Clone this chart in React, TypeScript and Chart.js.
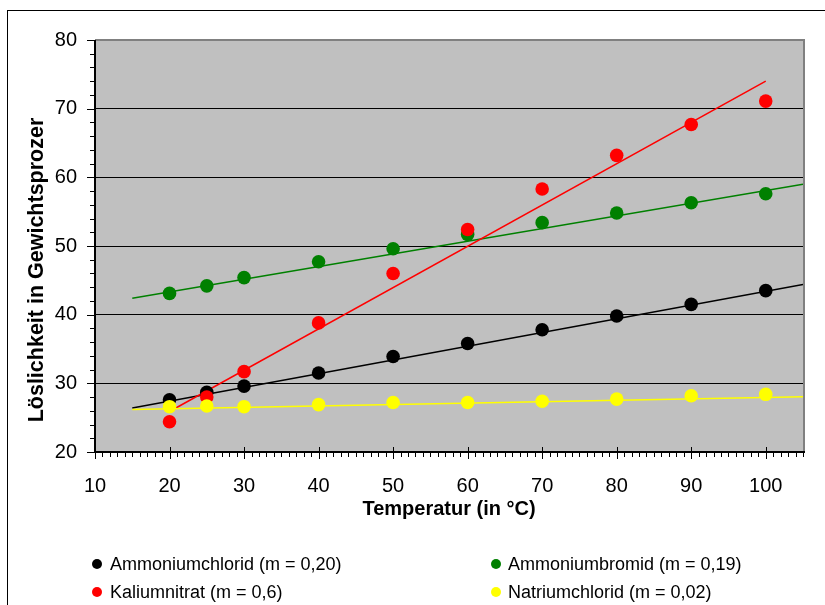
import React, { useEffect, useRef } from 'react';
import { Chart, registerables } from 'chart.js';

Chart.register(...registerables);

// ---- data ----
const temperatures = [20, 25, 30, 40, 50, 60, 70, 80, 90, 100];
const ammoniumchlorid = [27.6, 28.7, 29.6, 31.5, 33.9, 35.8, 37.8, 39.8, 41.5, 43.5];
const ammoniumbromid = [43.1, 44.2, 45.4, 47.7, 49.6, 51.7, 53.4, 54.8, 56.3, 57.6];
const kaliumnitrat = [24.4, 28.0, 31.7, 38.8, 46.0, 52.4, 58.3, 63.2, 67.7, 71.1];
const natriumchlorid = [26.6, 26.7, 26.6, 26.9, 27.2, 27.2, 27.4, 27.7, 28.2, 28.4];

// trendline end points
const trendXWide = [15, 105];
const trendXNarrow = [20, 100];
const trendAmmoniumchlorid = [26.4, 44.4];
const trendAmmoniumbromid = [42.4, 59.0];
const trendKaliumnitrat = [25.9, 74.0];
const trendNatriumchlorid = [26.2, 28.05];

const seriesLabels = [
  'Ammoniumchlorid (m = 0,20)',
  'Ammoniumbromid (m = 0,19)',
  'Kaliumnitrat (m = 0,6)',
  'Natriumchlorid (m = 0,02)',
];
const seriesColors = ['#000000', '#008000', '#ff0000', '#ffff00'];

const xTitle = 'Temperatur (in °C)';
const yTitle = 'Löslichkeit in Gewichtsprozer';
const xMin = 10;
const xMax = 105;
const yMin = 20;
const yMax = 80;

const FONT = '"Liberation Sans", Arial, sans-serif';

export default function App() {
  const ref = useRef<HTMLCanvasElement>(null);

  useEffect(() => {
    if (!ref.current) return;
    const pts = (ys: number[]) => temperatures.map((t, i) => ({ x: t, y: ys[i] }));
    const line = (xs: number[], ys: number[]) => xs.map((x, i) => ({ x, y: ys[i] }));

    const decor = {
      id: 'decor',
      beforeDraw(chart: any) {
        const { ctx, chartArea: a } = chart;
        ctx.save();
        ctx.fillStyle = '#ffffff';
        ctx.fillRect(0, 0, chart.width, chart.height);
        ctx.strokeStyle = '#000';
        ctx.lineWidth = 1;
        ctx.strokeRect(7.5, 10.5, 1000, 1000);
        ctx.fillStyle = '#c0c0c0';
        ctx.fillRect(a.left, a.top, a.right - a.left, a.bottom - a.top);
        ctx.restore();
      },
      afterDatasetsDraw(chart: any) {
        const { ctx, chartArea: a, scales } = chart;
        const xs = scales.x;
        const ys = scales.y;
        ctx.save();
        // gray frame top/right
        ctx.strokeStyle = '#808080';
        ctx.lineWidth = 2;
        ctx.beginPath();
        ctx.moveTo(Math.round(a.left), Math.round(a.top));
        ctx.lineTo(Math.round(a.right) + 1, Math.round(a.top));
        ctx.lineTo(Math.round(a.right) + 1, Math.round(a.bottom));
        ctx.stroke();
        // axes
        ctx.strokeStyle = '#000';
        ctx.lineWidth = 2;
        ctx.beginPath();
        ctx.moveTo(Math.round(a.left), Math.round(a.top));
        ctx.lineTo(Math.round(a.left), Math.round(a.bottom));
        ctx.lineTo(Math.round(a.right) + 2, Math.round(a.bottom));
        ctx.stroke();
        ctx.lineWidth = 1;
        ctx.beginPath();
        for (let v = yMin; v <= yMax; v += 2) {
          const p = Math.round(ys.getPixelForValue(v)) + 0.5;
          const major = v % 10 === 0;
          ctx.moveTo(a.left - (major ? 8 : 5), p);
          ctx.lineTo(a.left, p);
        }
        for (let v = xMin; v <= xMax; v += 1) {
          const p = Math.round(xs.getPixelForValue(v)) + 0.5;
          const major = v % 10 === 0;
          ctx.moveTo(p, a.bottom - (major ? 5 : 0));
          ctx.lineTo(p, a.bottom + (major ? 7 : 5));
        }
        ctx.stroke();
        ctx.restore();
      },
      afterDraw(chart: any) {
        const { ctx, chartArea: a } = chart;
        ctx.save();
        ctx.fillStyle = '#000';
        ctx.font = `bold 20px ${FONT}`;
        ctx.textAlign = 'center';
        ctx.textBaseline = 'alphabetic';
        ctx.fillText(xTitle, (a.left + a.right) / 2, 515);
        ctx.font = `bold 21.5px ${FONT}`;
        ctx.translate(43, 270);
        ctx.rotate(-Math.PI / 2);
        ctx.fillText(yTitle, 0, 0);
        ctx.restore();

        // legend
        const pos = [
          { x: 97, y: 564, tx: 110, ty: 570 },
          { x: 496, y: 564, tx: 508, ty: 570 },
          { x: 97, y: 592, tx: 110, ty: 598 },
          { x: 496, y: 592, tx: 508, ty: 598 },
        ];
        ctx.save();
        ctx.font = `18px ${FONT}`;
        ctx.textAlign = 'left';
        ctx.textBaseline = 'alphabetic';
        seriesLabels.forEach((lab, i) => {
          const p = pos[i];
          ctx.fillStyle = seriesColors[i];
          ctx.beginPath();
          ctx.arc(p.x, p.y, 5, 0, Math.PI * 2);
          ctx.fill();
          ctx.fillStyle = '#000';
          ctx.fillText(lab, p.tx, p.ty);
        });
        ctx.restore();
      },
    };

    const seriesData = [ammoniumchlorid, ammoniumbromid, kaliumnitrat, natriumchlorid];
    const trendData = [
      line(trendXWide, trendAmmoniumchlorid),
      line(trendXWide, trendAmmoniumbromid),
      line(trendXNarrow, trendKaliumnitrat),
      line(trendXWide, trendNatriumchlorid),
    ];

    const datasets: any[] = [];
    seriesData.forEach((ys, i) => {
      datasets.push({
        label: seriesLabels[i],
        data: pts(ys),
        showLine: false,
        pointRadius: 6.8,
        pointHoverRadius: 6.8,
        backgroundColor: seriesColors[i],
        borderColor: seriesColors[i],
        borderWidth: 0,
        order: 4 - i,
      });
    });
    trendData.forEach((d, i) => {
      datasets.push({
        label: 'trend ' + seriesLabels[i],
        data: d,
        showLine: true,
        pointRadius: 0,
        borderColor: seriesColors[i],
        borderWidth: 1.5,
        fill: false,
        order: 10 - i,
      });
    });

    const chart = new Chart(ref.current, {
      type: 'scatter',
      data: { datasets },
      plugins: [decor],
      options: {
        responsive: false,
        maintainAspectRatio: false,
        animation: false,
        devicePixelRatio: 1,
        layout: { padding: { top: 40, right: 22, left: 0, bottom: 0 } },
        plugins: { legend: { display: false }, tooltip: { enabled: false } },
        scales: {
          x: {
            type: 'linear',
            min: xMin,
            max: xMax,
            afterFit: (s: any) => {
              s.height = 153;
            },
            ticks: {
              stepSize: 10,
              includeBounds: false,
              padding: 22,
              color: '#000',
              maxRotation: 0,
              font: { family: FONT, size: 20 },
            },
            grid: { display: false, drawTicks: false },
            border: { display: false },
          },
          y: {
            type: 'linear',
            min: yMin,
            max: yMax,
            afterFit: (s: any) => {
              s.width = 95;
            },
            ticks: {
              stepSize: 10,
              padding: 18,
              color: '#000',
              font: { family: FONT, size: 20 },
            },
            grid: {
              drawTicks: false,
              lineWidth: 1,
              color: (c: any) => (c.tick && c.tick.value === yMax ? '#808080' : '#000000'),
            },
            border: { display: false },
          },
        },
      } as any,
    });
    return () => chart.destroy();
  }, []);

  return (
    <div style={{ position: 'absolute', left: 0, top: 0, width: 825, height: 605, overflow: 'hidden', background: '#fff' }}>
      <canvas ref={ref} width={825} height={605} style={{ display: 'block', width: 825, height: 605 }} />
    </div>
  );
}
